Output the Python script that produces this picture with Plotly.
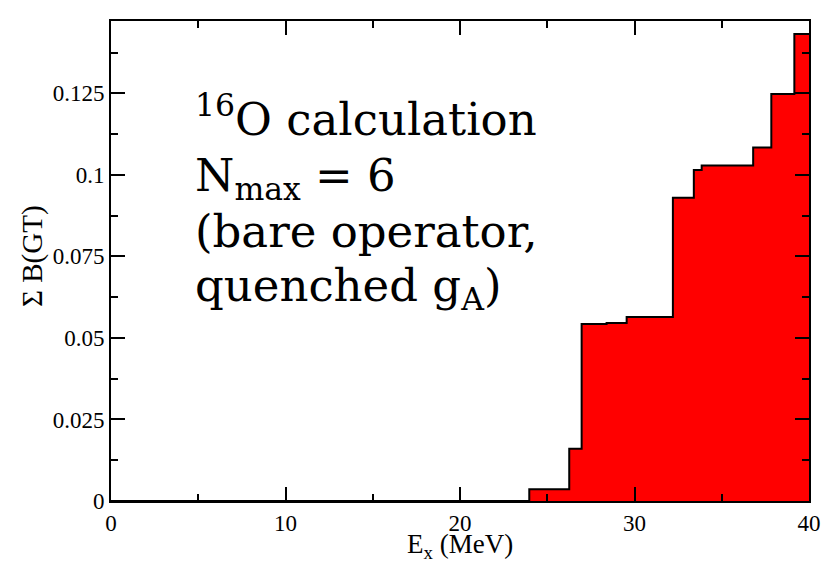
import plotly.graph_objects as go

# Running sum of Gamow-Teller strength versus excitation energy
energy_mev = [0.0, 23.97, 26.26, 26.97, 28.40, 29.55, 32.20, 33.40, 33.85, 36.80, 37.84, 39.16, 40.0]
sum_bgt = [0.0, 0.0036, 0.0160, 0.0543, 0.0546, 0.0564, 0.0930, 0.1015, 0.1029, 0.1084, 0.1248, 0.1432, 0.1432]

x_ticks = [0, 10, 20, 30, 40]
y_ticks = [0, 0.025, 0.05, 0.075, 0.1, 0.125]
y_tick_text = ["0", "0.025", "0.05", "0.075", "0.1", "0.125"]

# Caption lines, each with its vertical position in the plot area (paper units)
caption_lines = [
    "<sup>16</sup>O calculation",
    "N<sub>max</sub> = 6",
    "(bare operator,",
    "quenched g<sub>A</sub>)",
]
caption_y = [0.802, 0.673, 0.5625, 0.444]

serif = "Liberation Serif, Times New Roman, serif"
tick_font = dict(family=serif, size=23, color="black")
title_font = dict(family=serif, size=27, color="black")

fig = go.Figure()
fig.add_trace(go.Scatter(
    x=energy_mev, y=sum_bgt,
    mode="lines",
    line=dict(shape="hv", color="black", width=2),
    fill="tozeroy",
    fillcolor="#ff0000",
    showlegend=False,
    hoverinfo="x+y",
))

axis_common = dict(
    showgrid=False, zeroline=False, automargin=False,
    showline=True, linecolor="black", linewidth=2, mirror="ticks",
    ticks="inside", ticklen=14, tickwidth=1.5, tickcolor="black",
    tickfont=tick_font,
)

fig.update_xaxes(
    range=[0, 40], tickvals=x_ticks, ticktext=[str(v) for v in x_ticks],
    minor=dict(dtick=5, tick0=0, ticks="inside", ticklen=7, tickwidth=1.5, tickcolor="black"),
    **axis_common,
)
fig.update_yaxes(
    range=[0, 0.1472], tickvals=y_ticks, ticktext=y_tick_text,
    minor=dict(dtick=0.0125, tick0=0, ticks="inside", ticklen=7, tickwidth=1.5, tickcolor="black"),
    **axis_common,
)

# axis titles
fig.add_annotation(
    x=0.5, y=-0.093, xref="paper", yref="paper",
    xanchor="center", yanchor="middle", showarrow=False,
    text="E<sub>x</sub> (MeV)", font=title_font,
)
fig.add_annotation(
    x=-0.1136, y=0.51, xref="paper", yref="paper",
    xanchor="center", yanchor="middle", showarrow=False, textangle=-90,
    text="Σ B(GT)", font=dict(family=serif, size=29, color="black"),
)

for line, ypos in zip(caption_lines, caption_y):
    fig.add_annotation(
        x=0.117, y=ypos, xref="paper", yref="paper",
        xanchor="left", yanchor="middle", align="left", showarrow=False,
        text=line,
        font=dict(family="DejaVu Serif, serif", size=45, color="black"),
    )

fig.update_layout(
    width=822, height=563,
    margin=dict(l=111, r=13, t=21, b=62),
    paper_bgcolor="white", plot_bgcolor="white",
)

fig.write_html("out.html")
